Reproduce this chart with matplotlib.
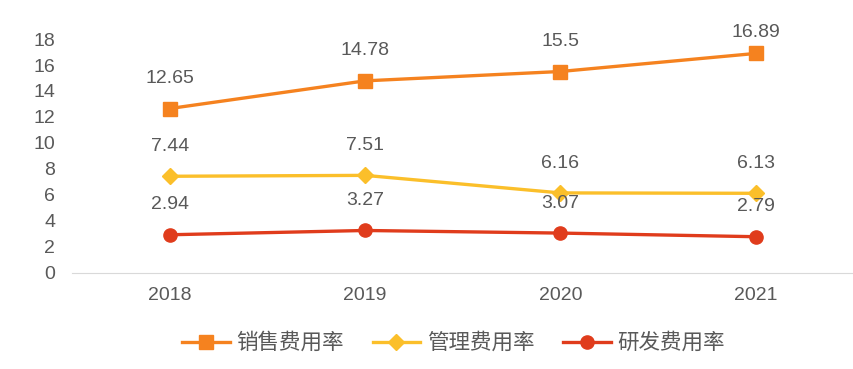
import matplotlib
matplotlib.use("Agg")
from matplotlib import pyplot as plt

plt.rcParams['font.family'] = ['Liberation Sans', 'Noto Sans CJK SC', 'DejaVu Sans']

years = ["2018", "2019", "2020", "2021"]
sales_rate = [12.65, 14.78, 15.5, 16.89]
admin_rate = [7.44, 7.51, 6.16, 6.13]
rd_rate = [2.94, 3.27, 3.07, 2.79]

series = [
    ("销售费用率", sales_rate, "#F5821F", "s", 10),
    ("管理费用率", admin_rate, "#FBBF2A", "D", 8),
    ("研发费用率", rd_rate, "#E03C1C", "o", 9.5),
]

text_color = "#595959"

fig = plt.figure(figsize=(8.54, 3.69), dpi=100)
ax = fig.add_axes([0.0843, 0.2602, 0.915, 0.6341])

x = range(len(years))
for name, vals, color, marker, ms in series:
    ax.plot(x, vals, color=color, lw=2.4, marker=marker, markersize=ms,
            label=name, clip_on=False, zorder=3)
    for xi, v in zip(x, vals):
        # labels sit above the point but stay inside the chart area
        ax.text(xi, min(v + 2.3, 18.5), f"{v:g}", ha="center", va="center",
                fontsize=14, color=text_color, clip_on=False)

ax.set_xlim(-0.5, 3.5)
ax.set_ylim(0, 18)
ax.set_yticks(range(0, 19, 2))
ax.set_xticks(list(x))
ax.set_xticklabels(years)
ax.tick_params(axis="both", length=0, labelsize=14, labelcolor=text_color)
ax.tick_params(axis="x", pad=10)
ax.tick_params(axis="y", pad=12)
for side in ["top", "right", "left"]:
    ax.spines[side].set_visible(False)
ax.spines["bottom"].set_color("#D9D9D9")

fig.legend(loc="center", bbox_to_anchor=(0.531, 0.07), ncol=3, frameon=False,
           prop={"family": ["Noto Sans CJK SC"], "size": 15.5}, labelcolor=text_color,
           handlelength=2.2, columnspacing=1.35, handletextpad=0.3)

fig.savefig("out.png", dpi=100)
